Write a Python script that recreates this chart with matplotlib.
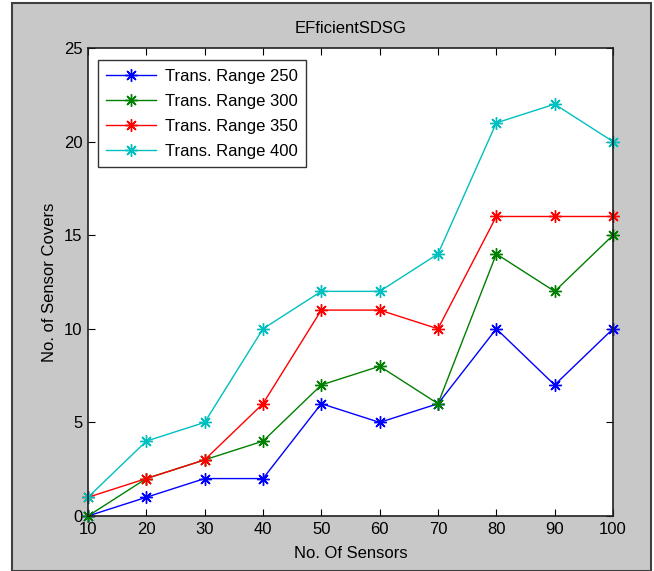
import numpy as np
import matplotlib.pyplot as plt
from matplotlib.patches import Rectangle

plt.rcParams['font.family'] = ['Liberation Sans', 'DejaVu Sans']

sensores = [10, 20, 30, 40, 50, 60, 70, 80, 90, 100]
range_250 = [0, 1, 2, 2, 6, 5, 6, 10, 7, 10]
range_300 = [0, 2, 3, 4, 7, 8, 6, 14, 12, 15]
range_350 = [1, 2, 3, 6, 11, 11, 10, 16, 16, 16]
range_400 = [1, 4, 5, 10, 12, 12, 14, 21, 22, 20]
rotulos = ['Trans. Range 250', 'Trans. Range 300', 'Trans. Range 350', 'Trans. Range 400']
cores = ['#0000ff', '#008000', '#ff0000', '#00bfbf']

W, H = 654, 571
fig = plt.figure(figsize=(W / 100, H / 100), dpi=100, facecolor='white')

# painel cinza estilo MATLAB
fig.patches.append(Rectangle((12 / W, 0), (651 - 12) / W, (H - 3) / H,
                             transform=fig.transFigure, facecolor='#c8c8c8',
                             edgecolor='#404040', linewidth=1.5, zorder=-10))

ax = fig.add_axes([88 / W, (H - 516) / H, (613 - 88) / W, (516 - 48) / H])
ax.set_facecolor('white')

# asterisco estilo MATLAB (8 bracos)
for serie, cor, rotulo in zip([range_250, range_300, range_350, range_400], cores, rotulos):
    ax.plot(sensores, serie, color=cor, marker=(8, 2, 0), markersize=9,
            markeredgewidth=1.0, linewidth=1, label=rotulo, clip_on=False)

ax.set_xlim(10, 100)
ax.set_ylim(0, 25)
ax.set_xticks(sensores)
ax.set_yticks([0, 5, 10, 15, 20, 25])
ax.tick_params(direction='in', top=True, right=True, length=5, labelsize=12, pad=4)
for s in ax.spines.values():
    s.set_linewidth(1.2)
    s.set_color('#202020')

ax.set_title('EFficientSDSG', fontsize=12, pad=11)
ax.set_xlabel('No. Of Sensors', fontsize=12, labelpad=7)
ax.set_ylabel('No. of Sensor Covers', fontsize=12, labelpad=5)

leg = ax.legend(loc='upper left', fontsize=12, frameon=True, fancybox=False,
                edgecolor='black', borderpad=0.5, handlelength=3.0, handletextpad=0.5,
                labelspacing=0.6, borderaxespad=0, bbox_to_anchor=(0.019, 0.974))
leg.get_frame().set_linewidth(1.0)

fig.savefig('out.png', dpi=100)
